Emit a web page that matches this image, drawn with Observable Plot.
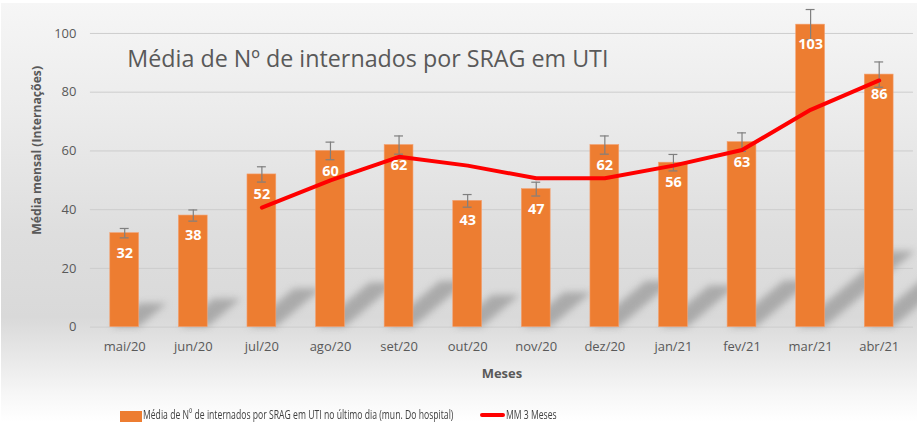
<!DOCTYPE html>
<html>
<head>
<meta charset="utf-8">
<script src="https://cdn.jsdelivr.net/npm/d3@7"></script>
<script src="https://cdn.jsdelivr.net/npm/@observablehq/plot@0.6"></script>
<style>
  html, body { margin: 0; padding: 0; background: #ffffff; }
  #wrap {
    position: absolute; left: 1px; top: 3px; width: 916px; height: 419px;
    background: linear-gradient(to bottom, #f6f6f6 0%, #ececec 25%, #dedede 55%, #d9d9d9 75%, #e4e4e4 82%, #f6f6f6 93%, #ffffff 100%);
    overflow: hidden;
  }
  #chart { position: absolute; left: -1px; top: -3px; }
  #legend {
    position: absolute; left: 0; top: 405px; width: 917px; height: 17px;
    font-family: "Open Sans", sans-serif; font-size: 13.5px; color: #404040;
  }
  .sw { position: absolute; }
  .lt { position: absolute; top: 0px; line-height: 18px; white-space: nowrap; transform: scaleX(0.64); transform-origin: 0 50%; }
</style>
</head>
<body>
<div id="wrap"></div>
<script>
const months = ["mai/20","jun/20","jul/20","ago/20","set/20","out/20","nov/20","dez/20","jan/21","fev/21","mar/21","abr/21"];
const values = [32, 38, 52, 60, 62, 43, 47, 62, 56, 63, 103, 86];
const errors = [1.6, 1.9, 2.6, 3.0, 3.1, 2.15, 2.35, 3.1, 2.8, 3.15, 5.15, 4.3];
const ma3 = [null, null, 40.7, 50, 58, 55, 50.7, 50.7, 55, 60.3, 74, 84];
const yTicks = [0, 20, 40, 60, 80, 100];
const title = "Média de Nº de internados por SRAG em UTI";
const yLabel = "Média mensal (Internações)";
const xLabel = "Meses";
const seriesName = "Média de Nº de internados por SRAG em UTI no último dia (mun. Do hospital)";
const maName = "MM 3 Meses";

const idx = months.map((m, i) => i);
const bars = months.map((m, i) => ({i, m, v: values[i], e: errors[i]}));
const line = months.map((m, i) => ({i, v: ma3[i]})).filter(d => d.v != null);
const hw = 0.21;
// shadow parallelogram per bar (areaX: two points per bar)
const shadow = [];
bars.forEach(d => {
  const sx = 0.0128 * d.v, sy = 0.25 * d.v;
  shadow.push({k: d.i, y: 0, x1: d.i - hw + 0.02, x2: d.i + hw});
  shadow.push({k: d.i, y: sy, x1: d.i - hw + 0.02 + sx, x2: d.i + hw + sx});
});

const chart = Plot.plot({
  width: 917,
  height: 395,
  marginLeft: 90,
  marginRight: 3,
  marginTop: 33,
  marginBottom: 68,
  style: {background: "transparent", fontFamily: "'Open Sans', sans-serif", fontSize: "13px", color: "#595959", overflow: "visible"},
  x: {type: "linear", domain: [-0.5, 11.5], ticks: idx, tickFormat: i => months[i], tickSize: 0, tickPadding: 15, label: null},
  y: {domain: [0, 100], ticks: yTicks, tickSize: 0, tickPadding: 14, label: null},
  marks: [
    Plot.ruleY(yTicks, {stroke: "#cdcdcd", strokeWidth: 1, strokeOpacity: 1}),
    Plot.areaX(shadow, {y: "y", x1: "x1", x2: "x2", z: "k", fill: "#909090", fillOpacity: 0.65, stroke: "none"}),
    Plot.rectY(bars, {x1: d => d.i - hw, x2: d => d.i + hw, y1: 0, y2: "v", fill: "#ED7D31", stroke: "#F4A070", strokeWidth: 0.6}),
    Plot.ruleX(bars, {x: "i", y1: d => d.v - d.e, y2: d => d.v + d.e, stroke: "#7f7f7f", strokeWidth: 1.2}),
    Plot.ruleY(bars, {y: d => d.v + d.e, x1: d => d.i - 0.065, x2: d => d.i + 0.065, stroke: "#7f7f7f", strokeWidth: 1.2}),
    Plot.ruleY(bars, {y: d => d.v - d.e, x1: d => d.i - 0.065, x2: d => d.i + 0.065, stroke: "#7f7f7f", strokeWidth: 1.2}),
    Plot.line(line, {x: "i", y: "v", stroke: "#FF0000", strokeWidth: 4, strokeLinejoin: "round", strokeLinecap: "round"}),
    Plot.text(bars, {x: "i", y: "v", text: d => String(d.v), dy: 20, fill: "#ffffff", fontWeight: "bold", fontSize: 14.5}),
    Plot.text([title], {frameAnchor: "top-left", text: d => d, dx: 37, dy: 26, textAnchor: "start", lineAnchor: "middle", fill: "#595959", fontSize: 23.3}),
    Plot.text([yLabel], {frameAnchor: "left", text: d => d, dx: -53, dy: -30, rotate: -90, textAnchor: "middle", lineAnchor: "middle", fill: "#595959", fontWeight: "bold", fontSize: 12.2}),
    Plot.text([xLabel], {frameAnchor: "bottom", text: d => d, dy: 47, lineAnchor: "middle", fill: "#595959", fontWeight: "bold", fontSize: 13})
  ]
});
chart.id = "chart";
d3.select(chart).selectAll('g[aria-label="area"]').style("filter", "blur(3.5px)");
const wrap = document.getElementById("wrap");
wrap.appendChild(chart);

const legend = document.createElement("div");
legend.id = "legend";
legend.innerHTML =
  '<div class="sw" style="left:120px;top:6px;width:22px;height:11px;background:#ED7D31"></div>' +
  '<div class="lt" style="left:143px">' + seriesName + '</div>' +
  '<div class="sw" style="left:480px;top:8px;width:25px;height:4px;border-radius:2px;background:#FF0000"></div>' +
  '<div class="lt" style="left:506px">' + maName + '</div>';
document.body.appendChild(legend);
</script>
</body>
</html>
